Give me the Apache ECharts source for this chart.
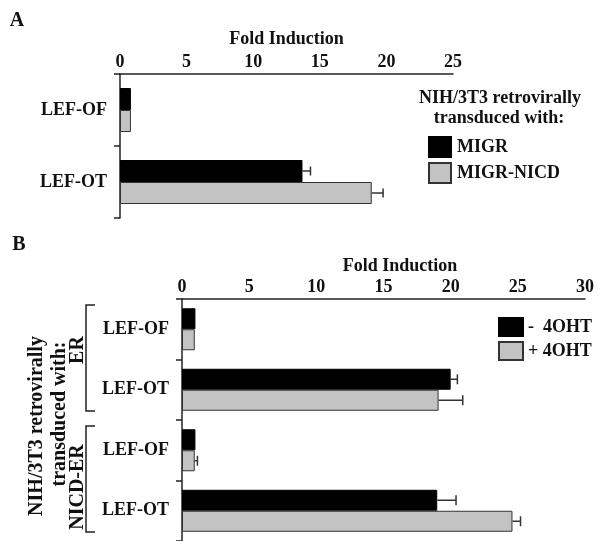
<!DOCTYPE html>
<html>
<head>
<meta charset="utf-8">
<script src="https://cdn.jsdelivr.net/npm/echarts@6/dist/echarts.min.js"></script>
<style>
  html, body { margin: 0; padding: 0; background: #fff; }
  #chart { width: 598px; height: 541px; }
</style>
</head>
<body>
<div id="chart"></div>
<script>
// panel A
var catsA = ['LEF-OF', 'LEF-OT'];
var migr = [0.82, 13.7];
var migrErr = [0, 0.6];
var migrNicd = [0.82, 18.9];
var migrNicdErr = [0, 0.85];
var ticksA = { min: 0, max: 25, step: 5 };

// panel B
var catsB = ['LEF-OF', 'LEF-OT', 'LEF-OF', 'LEF-OT'];
var groupsB = ['ER', 'ER', 'NICD-ER', 'NICD-ER'];
var minus4OHT = [1.0, 20.0, 1.0, 19.0];
var minus4OHTErr = [0, 0.5, 0, 1.4];
var plus4OHT = [0.95, 19.1, 0.95, 24.6];
var plus4OHTErr = [0, 1.8, 0.2, 0.6];
var ticksB = { min: 0, max: 30, step: 5 };

var FONT = '"Liberation Serif", "Times New Roman", serif';
var INK = '#111';
var GRAY = '#c3c3c3';

// grid boxes (px)
var gA = { left: 120, top: 74, width: 333, height: 144 };
var gB = { left: 182, top: 299, width: 403, height: 242 };

var barA = 22, barB = 21;

function errData(vals, errs) {
    var out = [];
    for (var i = 0; i < vals.length; i++) {
        if (errs[i] > 0) out.push([vals[i], errs[i], i]);
    }
    return out;
}

// draws the + side of the error bar, offset to the bar's slot
function errRender(barW, side, cap) {
    return function (params, api) {
        var v = api.value(0), e = api.value(1), c = api.value(2);
        var p0 = api.coord([v, c]);
        var p1 = api.coord([v + e, c]);
        var y = p0[1] + side * barW / 2;
        var st = { stroke: '#333', lineWidth: 1.5 };
        return {
            type: 'group',
            children: [
                { type: 'line', shape: { x1: p0[0], y1: y, x2: p1[0], y2: y }, style: st },
                { type: 'line', shape: { x1: p1[0], y1: y - cap, x2: p1[0], y2: y + cap }, style: st }
            ]
        };
    };
}

function valueAxis(idx, t, nameGap, namePad) {
    return {
        type: 'value', gridIndex: idx, position: 'top',
        min: t.min, max: t.max, interval: t.step,
        name: 'Fold Induction', nameLocation: 'middle', nameGap: nameGap,
        nameTextStyle: { fontFamily: FONT, fontWeight: 'bold', fontSize: 18, color: INK, padding: namePad, verticalAlign: 'bottom' },
        axisLine: { show: true, lineStyle: { color: '#222', width: 1.5 } },
        axisTick: { show: false },
        splitLine: { show: false },
        axisLabel: { fontFamily: FONT, fontWeight: 'bold', fontSize: 18, color: INK, margin: 3 }
    };
}

function catAxis(idx, data, fmt) {
    return {
        type: 'category', gridIndex: idx, inverse: true, data: data,
        axisLine: { show: true, lineStyle: { color: '#222', width: 1.5 } },
        axisTick: { show: true, length: 6, lineStyle: { color: '#222', width: 1.5 } },
        axisLabel: { fontFamily: FONT, fontWeight: 'bold', fontSize: 18, color: INK, margin: 13, formatter: fmt }
    };
}

var namesB = catsB.map(function (c, i) { return groupsB[i] + ' ' + c; });

var blackStyle = { color: '#000', borderColor: '#000', borderWidth: 1 };
var grayStyle = { color: GRAY, borderColor: '#333', borderWidth: 1 };

var chart = echarts.init(document.getElementById('chart'));

// bracket + group labels for panel B
var band = gB.height / catsB.length;
function bracket(i0, i1) {
    var y0 = gB.top + band * i0 + 6, y1 = gB.top + band * (i1 + 1) - 9;
    return {
        type: 'polyline',
        shape: { points: [[95, y0], [86, y0], [86, y1], [95, y1]] },
        style: { stroke: '#222', lineWidth: 1.5, fill: null }
    };
}
function vtext(txt, x, y, size) {
    return {
        type: 'text', x: x, y: y, rotation: Math.PI / 2,
        style: { text: txt, fontFamily: FONT, fontWeight: 'bold', fontSize: size, fill: INK, align: 'center', verticalAlign: 'middle' }
    };
}
function htext(txt, x, y, size, align) {
    return {
        type: 'text', x: x, y: y,
        style: { text: txt, fontFamily: FONT, fontWeight: 'bold', fontSize: size, fill: INK, align: align || 'center', verticalAlign: 'middle' }
    };
}

var option = {
    backgroundColor: '#fff',
    animation: false,
    grid: [
        { left: gA.left, top: gA.top, width: gA.width, height: gA.height },
        { left: gB.left, top: gB.top, width: gB.width, height: gB.height }
    ],
    xAxis: [valueAxis(0, ticksA, 26, 0), valueAxis(1, ticksB, 24, [0, 0, 0, 33])],
    yAxis: [
        catAxis(0, catsA),
        catAxis(1, namesB, function (v, i) { return catsB[i]; })
    ],
    legend: [
        {
            data: ['MIGR', 'MIGR-NICD'], orient: 'vertical', left: 428, top: 136,
            itemWidth: 22, itemHeight: 20, itemGap: 4, icon: 'rect', padding: 0,
            textStyle: { fontFamily: FONT, fontWeight: 'bold', fontSize: 18, color: INK, padding: [0, 0, 0, 1] }
        },
        {
            data: ['-  4OHT', '+ 4OHT'], orient: 'vertical', left: 498, top: 317,
            itemWidth: 24, itemHeight: 18, itemGap: 4, icon: 'rect', padding: 0,
            textStyle: { fontFamily: FONT, fontWeight: 'bold', fontSize: 18, color: INK, padding: [0, 0, 0, 0] }
        }
    ],
    graphic: [
        htext('A', 17, 21, 20),
        htext('B', 19, 245, 20),
        htext('NIH/3T3 retrovirally', 500, 98, 18),
        htext('transduced with:', 499, 118, 18),
        vtext('NIH/3T3 retrovirally', 37, 426, 20),
        vtext('transduced with:', 60, 414, 20),
        vtext('ER', 78, 350, 20),
        vtext('NICD-ER', 78, 487, 20),
        bracket(0, 1),
        bracket(2, 3)
    ],
    series: [
        { name: 'MIGR', type: 'bar', xAxisIndex: 0, yAxisIndex: 0, data: migr, barWidth: barA, barGap: '0%', itemStyle: blackStyle },
        { name: 'MIGR-NICD', type: 'bar', xAxisIndex: 0, yAxisIndex: 0, data: migrNicd, barWidth: barA, barGap: '0%', itemStyle: grayStyle },
        { type: 'custom', xAxisIndex: 0, yAxisIndex: 0, data: errData(migr, migrErr), encode: { x: 0, y: 2 }, renderItem: errRender(barA, -1, 4.5), z: 3 },
        { type: 'custom', xAxisIndex: 0, yAxisIndex: 0, data: errData(migrNicd, migrNicdErr), encode: { x: 0, y: 2 }, renderItem: errRender(barA, 1, 4.5), z: 3 },

        { name: '-  4OHT', type: 'bar', xAxisIndex: 1, yAxisIndex: 1, data: minus4OHT, barWidth: barB, barGap: '0%', itemStyle: blackStyle },
        { name: '+ 4OHT', type: 'bar', xAxisIndex: 1, yAxisIndex: 1, data: plus4OHT, barWidth: barB, barGap: '0%', itemStyle: grayStyle },
        { type: 'custom', xAxisIndex: 1, yAxisIndex: 1, data: errData(minus4OHT, minus4OHTErr), encode: { x: 0, y: 2 }, renderItem: errRender(barB, -1, 5), z: 3 },
        { type: 'custom', xAxisIndex: 1, yAxisIndex: 1, data: errData(plus4OHT, plus4OHTErr), encode: { x: 0, y: 2 }, renderItem: errRender(barB, 1, 5), z: 3 }
    ]
};

chart.setOption(option);
</script>
</body>
</html>
